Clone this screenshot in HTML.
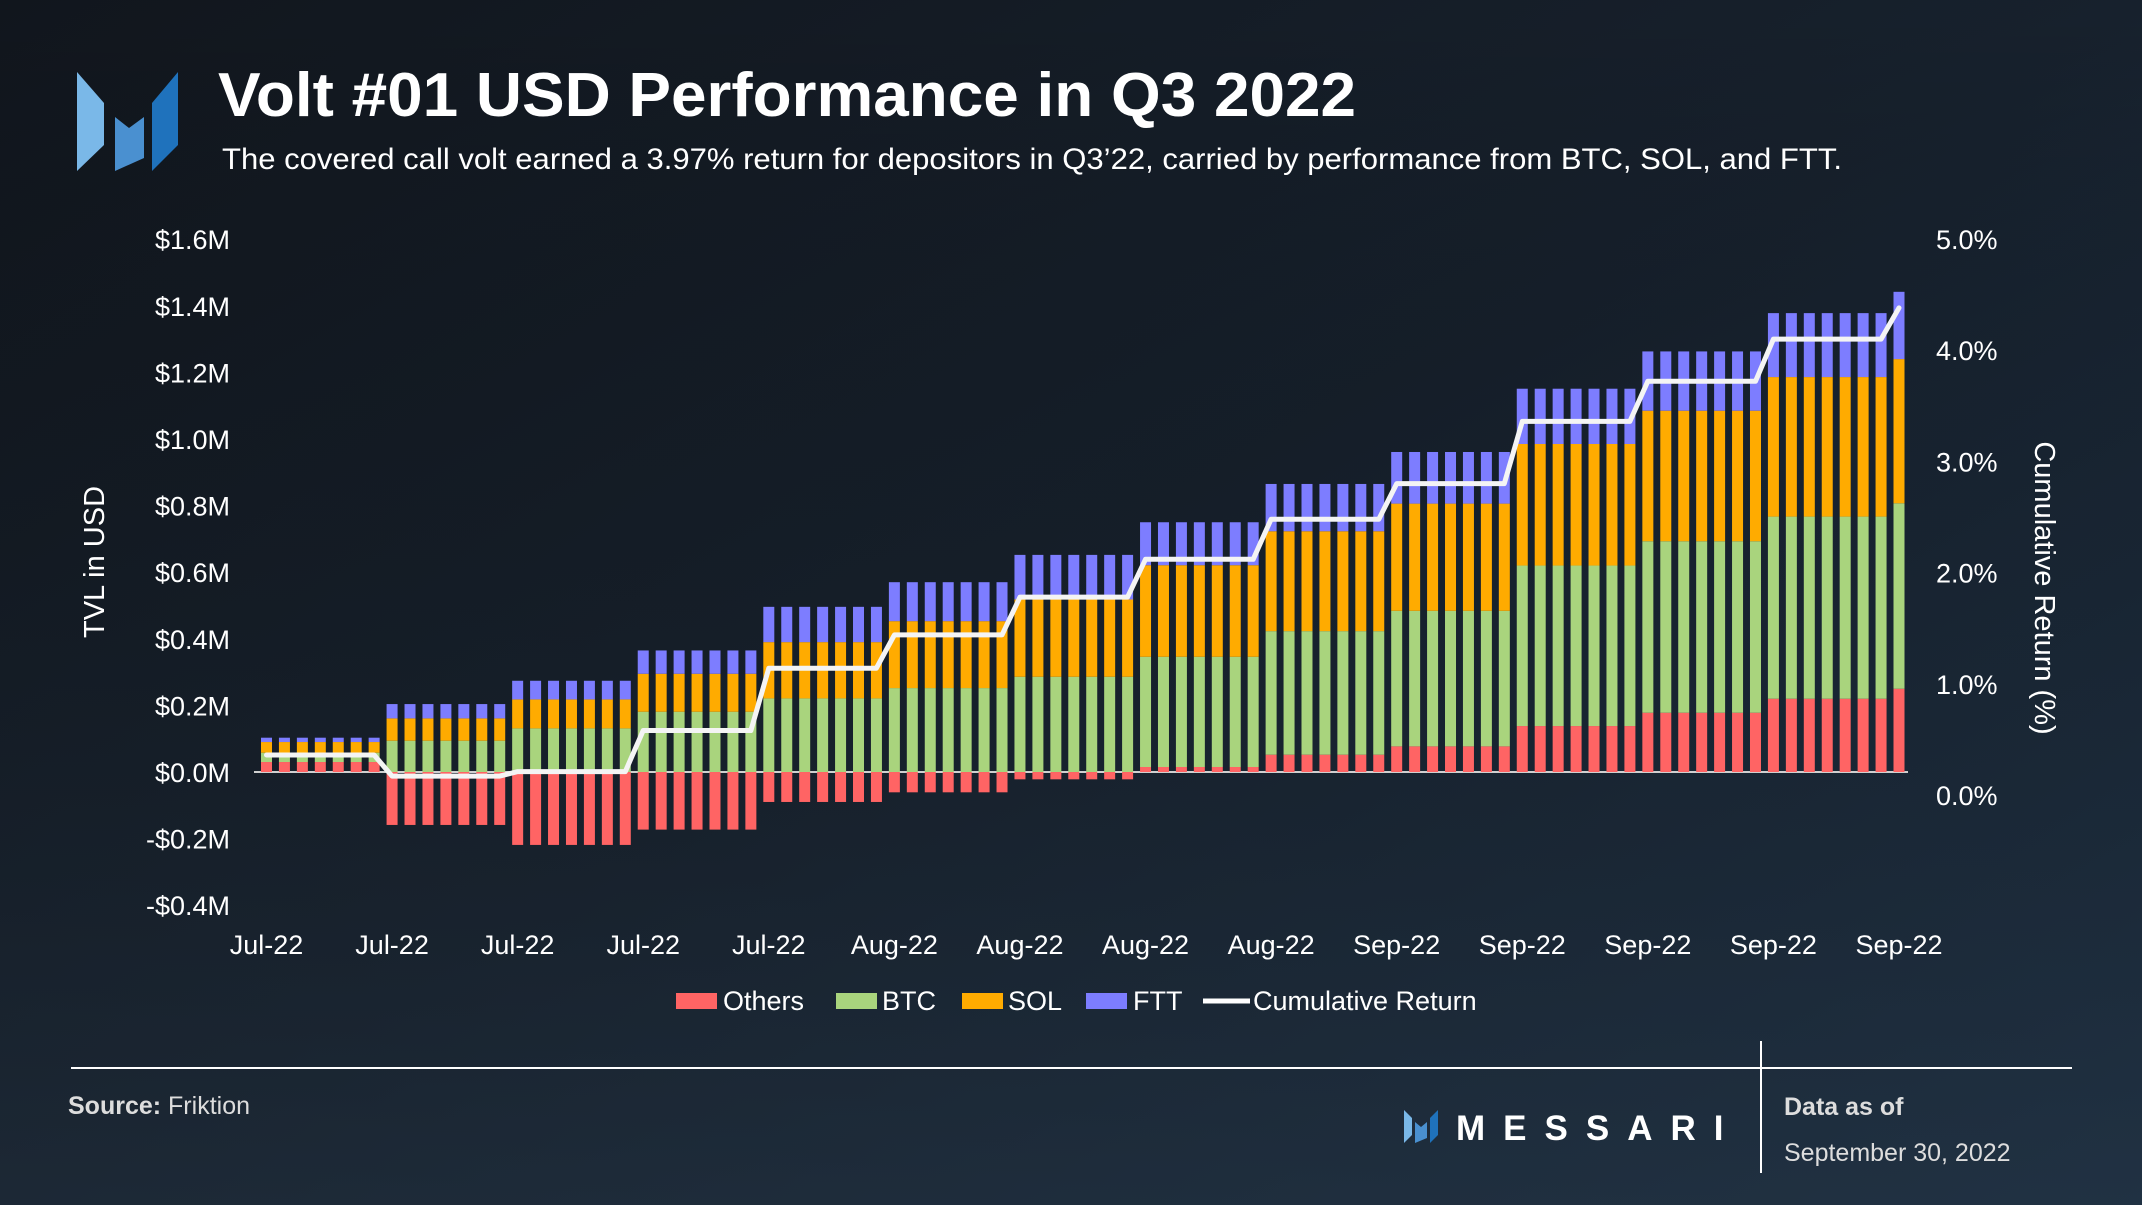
<!DOCTYPE html>
<html><head><meta charset="utf-8"><style>
html,body{margin:0;padding:0;width:2142px;height:1205px;overflow:hidden;background:#151c26}
svg{display:block;font-family:"Liberation Sans",sans-serif}
</style></head><body>
<svg id="chart" width="2142" height="1205" viewBox="0 0 2142 1205">
<defs>
<linearGradient id="bg" x1="0" y1="0" x2="1" y2="1">
<stop offset="0" stop-color="#11161d"/><stop offset="0.5" stop-color="#17212d"/><stop offset="1" stop-color="#1f3348"/>
</linearGradient>
<linearGradient id="bg2" x1="0" y1="0" x2="0" y2="1">
<stop offset="0" stop-color="#000" stop-opacity="0"/><stop offset="1" stop-color="#22303e" stop-opacity="0.5"/>
</linearGradient>
</defs>
<rect width="2142" height="1205" fill="url(#bg)"/>
<rect width="2142" height="1205" fill="url(#bg2)"/>
<g>
<polygon points="77,72 104,103 104,145 77,171" fill="#7ab8e8"/>
<polygon points="115,117 129,128 144,117 144,158 115,171" fill="#4a90d0"/>
<polygon points="178,72 178,145 152,171 152,103" fill="#1f72bc"/>
</g>
<text x="218" y="116" font-size="62" font-weight="bold" fill="#fff" textLength="1138" lengthAdjust="spacingAndGlyphs">Volt #01 USD Performance in Q3 2022</text>
<text x="222" y="169" font-size="30" fill="#fff" textLength="1620" lengthAdjust="spacingAndGlyphs">The covered call volt earned a 3.97% return for depositors in Q3’22, carried by performance from BTC, SOL, and FTT.</text>
<g id="axes"></g>
<g id="bars"></g>
<g id="line"></g>
<text transform="translate(104,562) rotate(-90)" font-size="29" fill="#fff" text-anchor="middle">TVL in USD</text>
<text transform="translate(2035,588) rotate(90)" font-size="29" fill="#fff" text-anchor="middle">Cumulative Return (%)</text>
<g>
<g><rect x="676" y="993" width="41" height="16" fill="#ff6464"/><text x="723" y="1010" font-size="27" fill="#fff">Others</text></g>
<g><rect x="836" y="993" width="41" height="16" fill="#a9d47d"/><text x="882" y="1010" font-size="27" fill="#fff">BTC</text></g>
<g><rect x="962" y="993" width="41" height="16" fill="#ffab00"/><text x="1008" y="1010" font-size="27" fill="#fff">SOL</text></g>
<g><rect x="1086" y="993" width="41" height="16" fill="#7d7dff"/><text x="1133" y="1010" font-size="27" fill="#fff">FTT</text></g>
<g><line x1="1203" y1="1001" x2="1250" y2="1001" stroke="#fff" stroke-width="5"/><text x="1253" y="1010" font-size="27" fill="#fff">Cumulative Return</text></g>
</g>
<line x1="71" y1="1068" x2="2072" y2="1068" stroke="#fff" stroke-width="2"/>
<line x1="1761" y1="1041" x2="1761" y2="1173" stroke="#fff" stroke-width="2"/>
<text x="68" y="1114" font-size="25" fill="#ddd"><tspan font-weight="bold">Source:</tspan> Friktion</text>
<g>
<polygon points="1404,1110 1412,1118 1412,1135 1404,1143" fill="#7ab8e8"/>
<polygon points="1415,1122 1421,1127 1427,1122 1427,1138 1415,1143" fill="#4a90d0"/>
<polygon points="1438,1110 1438,1135 1430,1143 1430,1118" fill="#1f72bc"/>
<text x="1456" y="1140" font-size="35" font-weight="bold" fill="#fff" letter-spacing="18">MESSARI</text>
</g>
<text x="1784" y="1115" font-size="25" font-weight="bold" fill="#ddd">Data as of</text>
<text x="1784" y="1161" font-size="25" fill="#ddd">September 30, 2022</text>
</svg>
<script>
const others=[0.03,0.03,0.03,0.03,0.03,0.03,0.03,-0.159,-0.159,-0.159,-0.159,-0.159,-0.159,-0.159,-0.219,-0.219,-0.219,-0.219,-0.219,-0.219,-0.219,-0.173,-0.173,-0.173,-0.173,-0.173,-0.173,-0.173,-0.09,-0.09,-0.09,-0.09,-0.09,-0.09,-0.09,-0.061,-0.061,-0.061,-0.061,-0.061,-0.061,-0.061,-0.022,-0.022,-0.022,-0.022,-0.022,-0.022,-0.022,0.015,0.015,0.015,0.015,0.015,0.015,0.015,0.052,0.052,0.052,0.052,0.052,0.052,0.052,0.077,0.077,0.077,0.077,0.077,0.077,0.077,0.138,0.138,0.138,0.138,0.138,0.138,0.138,0.178,0.178,0.178,0.178,0.178,0.178,0.178,0.22,0.22,0.22,0.22,0.22,0.22,0.22,0.25];
const btc=[0.028,0.028,0.028,0.028,0.028,0.028,0.028,0.094,0.094,0.094,0.094,0.094,0.094,0.094,0.131,0.131,0.131,0.131,0.131,0.131,0.131,0.181,0.181,0.181,0.181,0.181,0.181,0.181,0.221,0.221,0.221,0.221,0.221,0.221,0.221,0.252,0.252,0.252,0.252,0.252,0.252,0.252,0.286,0.286,0.286,0.286,0.286,0.286,0.286,0.331,0.331,0.331,0.331,0.331,0.331,0.331,0.371,0.371,0.371,0.371,0.371,0.371,0.371,0.407,0.407,0.407,0.407,0.407,0.407,0.407,0.482,0.482,0.482,0.482,0.482,0.482,0.482,0.515,0.515,0.515,0.515,0.515,0.515,0.515,0.547,0.547,0.547,0.547,0.547,0.547,0.547,0.557];
const sol=[0.032,0.032,0.032,0.032,0.032,0.032,0.032,0.067,0.067,0.067,0.067,0.067,0.067,0.067,0.087,0.087,0.087,0.087,0.087,0.087,0.087,0.114,0.114,0.114,0.114,0.114,0.114,0.114,0.169,0.169,0.169,0.169,0.169,0.169,0.169,0.201,0.201,0.201,0.201,0.201,0.201,0.201,0.232,0.232,0.232,0.232,0.232,0.232,0.232,0.275,0.275,0.275,0.275,0.275,0.275,0.275,0.300,0.300,0.300,0.300,0.300,0.300,0.300,0.322,0.322,0.322,0.322,0.322,0.322,0.322,0.365,0.365,0.365,0.365,0.365,0.365,0.365,0.392,0.392,0.392,0.392,0.392,0.392,0.392,0.419,0.419,0.419,0.419,0.419,0.419,0.419,0.433];
const ftt=[0.013,0.013,0.013,0.013,0.013,0.013,0.013,0.043,0.043,0.043,0.043,0.043,0.043,0.043,0.056,0.056,0.056,0.056,0.056,0.056,0.056,0.07,0.07,0.07,0.07,0.07,0.07,0.07,0.106,0.106,0.106,0.106,0.106,0.106,0.106,0.117,0.117,0.117,0.117,0.117,0.117,0.117,0.134,0.134,0.134,0.134,0.134,0.134,0.134,0.129,0.129,0.129,0.129,0.129,0.129,0.129,0.142,0.142,0.142,0.142,0.142,0.142,0.142,0.155,0.155,0.155,0.155,0.155,0.155,0.155,0.166,0.166,0.166,0.166,0.166,0.166,0.166,0.178,0.178,0.178,0.178,0.178,0.178,0.178,0.192,0.192,0.192,0.192,0.192,0.192,0.192,0.202];
const cumReturn=[0.36,0.36,0.36,0.36,0.36,0.36,0.36,0.17,0.17,0.17,0.17,0.17,0.17,0.17,0.21,0.21,0.21,0.21,0.21,0.21,0.21,0.58,0.58,0.58,0.58,0.58,0.58,0.58,1.14,1.14,1.14,1.14,1.14,1.14,1.14,1.44,1.44,1.44,1.44,1.44,1.44,1.44,1.78,1.78,1.78,1.78,1.78,1.78,1.78,2.12,2.12,2.12,2.12,2.12,2.12,2.12,2.48,2.48,2.48,2.48,2.48,2.48,2.48,2.80,2.80,2.80,2.80,2.80,2.80,2.80,3.36,3.36,3.36,3.36,3.36,3.36,3.36,3.72,3.72,3.72,3.72,3.72,3.72,3.72,4.10,4.10,4.10,4.10,4.10,4.10,4.10,4.38];
const leftTicks=[-0.4,-0.2,0,0.2,0.4,0.6,0.8,1.0,1.2,1.4,1.6];
const leftTickLabels=["-$0.4M","-$0.2M","$0.0M","$0.2M","$0.4M","$0.6M","$0.8M","$1.0M","$1.2M","$1.4M","$1.6M"];
const rightTicks=[0,1,2,3,4,5];
const rightTickLabels=["0.0%","1.0%","2.0%","3.0%","4.0%","5.0%"];
const xTickIndex=[0,7,14,21,28,35,42,49,56,63,70,77,84,91];
const xTickLabels=["Jul-22","Jul-22","Jul-22","Jul-22","Jul-22","Aug-22","Aug-22","Aug-22","Aug-22","Sep-22","Sep-22","Sep-22","Sep-22","Sep-22"];

const NS="http://www.w3.org/2000/svg";
function yL(v){return 772-v*333;}
function yR(p){return 795-p*111.2;}
function xC(i){return 266.5+i*(1899-266.5)/(others.length-1);}
const BW=11;
function mk(tag,attrs,parent){const e=document.createElementNS(NS,tag);for(const k in attrs)e.setAttribute(k,attrs[k]);parent.appendChild(e);return e;}
const axes=document.getElementById('axes'),bars=document.getElementById('bars'),lineG=document.getElementById('line');
leftTicks.forEach((t,i)=>{const e=mk('text',{x:230,y:yL(t)+10,'font-size':27,fill:'#fff','text-anchor':'end'},axes);e.textContent=leftTickLabels[i];

});
rightTicks.forEach((t,i)=>{const e=mk('text',{x:1936,y:yR(t)+10,'font-size':27,fill:'#fff'},axes);e.textContent=rightTickLabels[i];

});
xTickIndex.forEach((idx,i)=>{const e=mk('text',{x:xC(idx),y:954,'font-size':27,fill:'#fff','text-anchor':'middle'},axes);e.textContent=xTickLabels[i];

});
const colors=['#ff6464','#a9d47d','#ffab00','#7d7dff'];
const names=['bar-others','bar-btc','bar-sol','bar-ftt'];
const series=[others,btc,sol,ftt];
for(let i=0;i<others.length;i++){
  let pos=0,neg=0;
  series.forEach((s,k)=>{const v=s[i];let y0,y1;
    if(v>=0){y0=pos;y1=pos+v;pos=y1;}else{y0=neg;y1=neg+v;neg=y1;}
    const top=Math.min(yL(y0),yL(y1)),h=Math.abs(yL(y1)-yL(y0));
    const r=mk('rect',{x:xC(i)-BW/2,y:top,width:BW,height:h,fill:colors[k]},bars);
    
    
  });
}
const zl=mk('line',{x1:254,y1:772,x2:1908,y2:772,stroke:'#d0d0d0','stroke-width':2},axes);


const pts=cumReturn.map((p,i)=>xC(i).toFixed(1)+','+yR(p).toFixed(1)).join(' ');
const pl=mk('polyline',{points:pts,fill:'none',stroke:'#f4f4f4','stroke-width':5,'stroke-linejoin':'round','stroke-linecap':'round'},lineG);


</script>
</body></html>
